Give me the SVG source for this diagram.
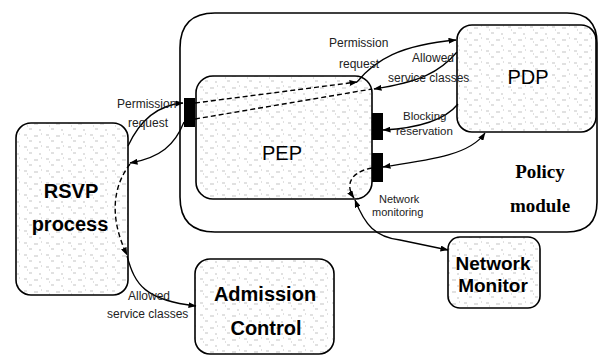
<svg xmlns="http://www.w3.org/2000/svg" width="600" height="356" viewBox="0 0 600 356">
<style>
.box{stroke:#000;stroke-width:1.6;fill:url(#tex)}
.blk{fill:#000}
.ln{fill:none;stroke:#000;stroke-width:1.3}
.dash{fill:none;stroke:#000;stroke-width:1.4;stroke-dasharray:5 3}
.lbl{font-family:"Liberation Sans",Arial,sans-serif;font-size:12px;fill:#222}
.big{font-family:"Liberation Sans",Arial,sans-serif;font-size:20px;fill:#000}
.bold{font-family:"Liberation Sans",Arial,sans-serif;font-size:20px;font-weight:bold;fill:#000}
.ser{font-family:"Liberation Serif","Times New Roman",serif;font-size:19px;font-weight:bold;fill:#000}
</style>
<defs>
<pattern id="tex" width="22" height="12" patternUnits="userSpaceOnUse">
<rect width="22" height="12" fill="#fff"/>
<path d="M2 3h3M12 4h4M7 9h3M17 10h2M19 2h1M5 6h1" stroke="#c4c4c4" stroke-width="1"/>
</pattern>
<marker id="ah" viewBox="0 0 8 6" refX="7.5" refY="3" markerWidth="8" markerHeight="6" markerUnits="userSpaceOnUse" orient="auto-start-reverse">
<path d="M0 0L8 3L0 6z" fill="#000"/>
</marker>
</defs>
<g id="policy-module">
<path d="M215 13 H567 Q597 13 597 43 V202 Q597 232 567 232 H215 Q180 232 180 197 V48 Q180 13 215 13 Z" fill="#fff" stroke="#000" stroke-width="1.6"/>
<text class="ser" x="540" y="178" text-anchor="middle">Policy</text>
<text class="ser" x="540" y="212" text-anchor="middle">module</text>
</g>
<g id="pep">
<rect class="box" x="196" y="76" width="176" height="123" rx="17"/>
<text class="big" x="282" y="160" text-anchor="middle">PEP</text>
</g>
<g id="pdp">
<rect class="box" x="457" y="25" width="139" height="107" rx="15"/>
<text class="big" x="528" y="84" text-anchor="middle">PDP</text>
</g>
<g id="rsvp">
<rect class="box" x="16" y="123" width="112" height="172" rx="15"/>
<text class="bold" x="71" y="198" text-anchor="middle">RSVP</text>
<text class="bold" x="70" y="231" text-anchor="middle">process</text>
</g>
<g id="admission">
<rect class="box" x="195" y="259" width="139" height="95" rx="15"/>
<text class="bold" x="265" y="301" text-anchor="middle">Admission</text>
<text class="bold" x="266" y="335" text-anchor="middle">Control</text>
</g>
<g id="network-monitor">
<rect class="box" x="448" y="237" width="92" height="71" rx="12"/>
<text class="bold" x="493" y="270" text-anchor="middle" style="font-size:19px">Network</text>
<text class="bold" x="493" y="292" text-anchor="middle" style="font-size:19px">Monitor</text>
</g>
<g id="ports">
<rect class="blk" x="184" y="98" width="11" height="29"/>
<rect class="blk" x="372" y="113" width="11" height="27"/>
<rect class="blk" x="372" y="153" width="11" height="29"/>
</g>
<g id="connectors">
<path class="ln" d="M128 146 C140 120 158 105 183 103" marker-end="url(#ah)"/>
<path class="ln" d="M184 122 C175 145 160 158 130 163" marker-end="url(#ah)"/>
<path class="dash" d="M130 164 C114 185 108 215 127 255" marker-end="url(#ah)"/>
<path class="ln" d="M127 256 C135 285 145 300 196 306" marker-end="url(#ah)"/>
<path class="dash" d="M195 103 L357 82" marker-end="url(#ah)"/>
<path class="dash" d="M195 119 L372 89"/>
<path class="ln" d="M357 82 C375 60 400 45 456 40" marker-end="url(#ah)"/>
<path class="ln" d="M457 52 C440 72 420 82 374 89" marker-end="url(#ah)"/>
<path class="ln" d="M458 104 C445 120 420 128 383 130" marker-end="url(#ah)"/>
<path class="ln" d="M485 133 C470 155 430 160 383 167" marker-start="url(#ah)" marker-end="url(#ah)"/>
<path class="dash" d="M372 168 C350 172 345 185 354 198" marker-end="url(#ah)"/>
<path class="ln" d="M355 200 C365 225 375 237 400 240 L448 250" marker-start="url(#ah)" marker-end="url(#ah)"/>
</g>
<g id="labels">
<text class="lbl" x="117" y="108">Permission</text>
<text class="lbl" x="128" y="127">request</text>
<text class="lbl" x="329" y="47">Permission</text>
<text class="lbl" x="339" y="68">request</text>
<text class="lbl" x="412" y="62">Allowed</text>
<text class="lbl" x="388" y="82">service classes</text>
<text class="lbl" x="403" y="120" style="font-size:11.5px">Blocking</text>
<text class="lbl" x="396" y="135" style="font-size:11.5px">reservation</text>
<text class="lbl" x="379" y="203" style="font-size:11px">Network</text>
<text class="lbl" x="372" y="216" style="font-size:11px">monitoring</text>
<text class="lbl" x="128" y="300">Allowed</text>
<text class="lbl" x="107" y="318">service classes</text>
</g>
</svg>
